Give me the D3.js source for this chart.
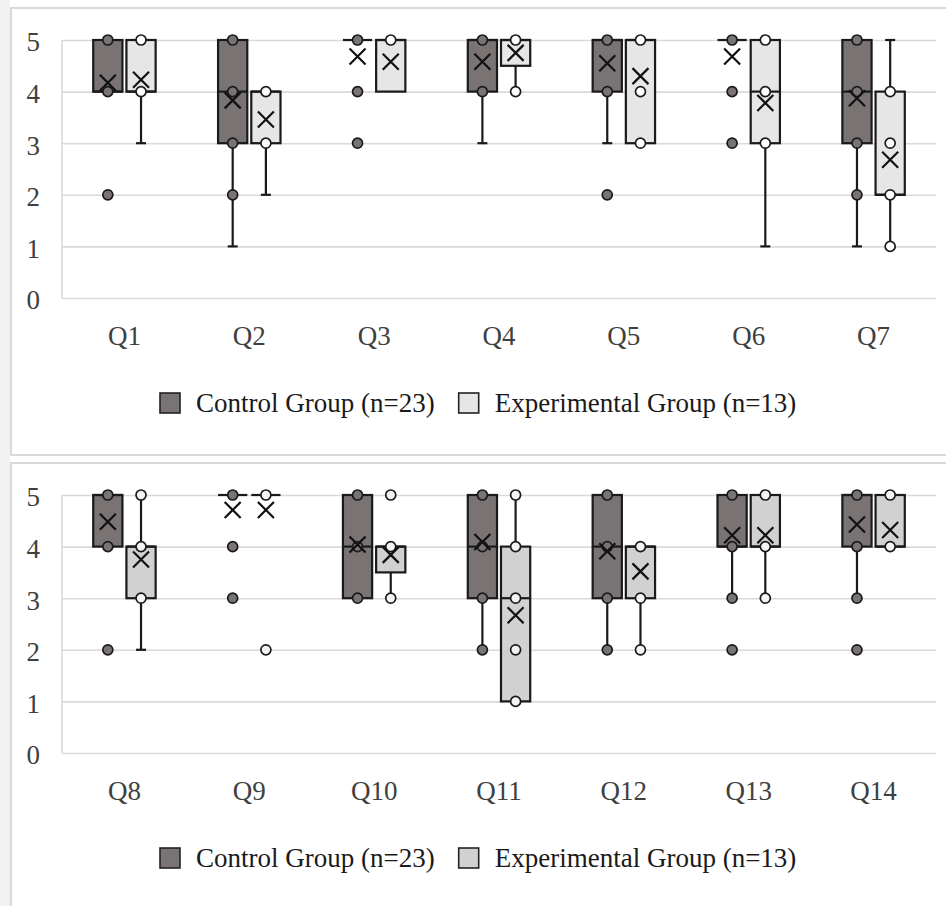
<!DOCTYPE html>
<html><head><meta charset="utf-8">
<script src="https://cdn.jsdelivr.net/npm/d3@7"></script>
<style>
html,body{margin:0;padding:0;background:#fff;}
svg{display:block;}
</style>
</head><body>
<svg id="chart" width="946" height="906"></svg>
<script>
// ---- data ----
const questions = ["Q1","Q2","Q3","Q4","Q5","Q6","Q7","Q8","Q9","Q10","Q11","Q12","Q13","Q14"];
const groups = ["Control Group (n=23)", "Experimental Group (n=13)"];
const yTicks = [0,1,2,3,4,5];

const ctrlBoxLow     = [4,3,5,4,4,5,3, 4,5,3,3,3,4,4];
const ctrlMedian     = [4,4,5,5,5,5,4, 5,5,4,4,4,4,5];
const ctrlBoxHigh    = [5,5,5,5,5,5,5, 5,5,5,5,5,5,5];
const ctrlWhiskerLow = [4,1,5,3,3,5,1, 4,5,3,2,2,3,3];
const ctrlWhiskerHigh= [5,5,5,5,5,5,5, 5,5,5,5,5,5,5];
const ctrlMean       = [4.17,3.83,4.68,4.58,4.55,4.68,3.87, 4.48,4.71,4.04,4.09,3.91,4.22,4.43];
const ctrlPoints     = [[5,4,2],[5,4,3,2],[5,4,3],[5,4],[5,4,2],[5,4,3],[5,4,3,2],
                        [5,4,2],[5,4,3],[5,4,3],[5,4,3,2],[5,4,3,2],[5,4,3,2],[5,4,3,2]];

const expBoxLow      = [4,3,4,4.5,3,3,2, 3,5,3.5,1,3,4,4];
const expMedian      = [4,4,5,5,5,4,2, 4,5,4,3,4,4,4];
const expBoxHigh     = [5,4,5,5,5,5,4, 4,5,4,4,4,5,5];
const expWhiskerLow  = [3,2,4,4,3,1,1, 2,5,3,1,2,3,4];
const expWhiskerHigh = [5,4,5,5,5,5,5, 5,5,4,5,4,5,5];
const expMean        = [4.23,3.46,4.58,4.75,4.30,3.78,2.68, 3.75,4.71,3.84,2.67,3.52,4.22,4.32];
const expPoints      = [[5,4],[4,3],[5],[5,4],[5,4,3],[5,4,3],[4,3,2,1],
                        [5,4,3],[5,2],[5,4,3],[5,4,3,2,1],[4,3,2],[5,4,3],[5,4]];

// ---- styling ----
const ctrlFill = "#797373";
const expFillTop = "#e6e6e6";
const expFillBottom = "#d2d1d1";
const font = "'Liberation Serif','Times New Roman',serif";

const svg = d3.select("#chart");
svg.append("rect").attr("width",946).attr("height",906).attr("fill","#fff");
svg.append("rect").attr("x",0).attr("y",0).attr("width",10).attr("height",906).attr("fill","#f1f1f1");

const panels = [
  {qs: questions.slice(0,7), idx:[0,1,2,3,4,5,6], y5:40, y0:298, top:8, bottom:455, legendY:403, expFill:expFillTop, expPt:"#ffffff"},
  {qs: questions.slice(7), idx:[7,8,9,10,11,12,13], y5:495, y0:753, top:463, bottom:915, legendY:858, expFill:expFillBottom, expPt:"#f4f4f4"}
];

const plotLeft = 62, plotRight = 936;

panels.forEach(p => {
  const g = svg.append("g");
  g.append("rect").attr("x",11).attr("y",p.top).attr("width",960).attr("height",p.bottom-p.top)
    .attr("fill","#fff").attr("stroke","#d9d9d9").attr("stroke-width",2);

  const y = d3.scaleLinear().domain([0,5]).range([p.y0, p.y5]);
  const x0 = d3.scaleBand().domain(p.qs).range([plotLeft, plotRight]).paddingInner(0.5).paddingOuter(0.25);
  const x1 = d3.scaleBand().domain(groups).range([0, x0.bandwidth()]).paddingInner(0.12);

  const ya = g.append("g").attr("transform",`translate(${plotLeft},0)`)
    .call(d3.axisLeft(y).tickValues(yTicks).tickSize(-(plotRight-plotLeft)).tickPadding(22).tickFormat(d3.format("d")));
  ya.select(".domain").remove();
  ya.selectAll(".tick line").attr("stroke","#d9d9d9").attr("stroke-width",1.6);
  ya.selectAll(".tick text").attr("font-family",font).attr("font-size",27).attr("fill","#404040").attr("dy","0.4em");
  g.append("line").attr("x1",plotLeft).attr("x2",plotLeft).attr("y1",y(5)).attr("y2",y(0))
    .attr("stroke","#d9d9d9").attr("stroke-width",1.6);

  const xa = g.append("g").attr("transform",`translate(0,${y(0)})`)
    .call(d3.axisBottom(x0).tickSize(0).tickPadding(28));
  xa.select(".domain").remove();
  xa.selectAll(".tick text").attr("font-family",font).attr("font-size",27).attr("fill","#404040");

  const series = [
    {name:groups[0], lo:ctrlBoxLow, med:ctrlMedian, hi:ctrlBoxHigh, wlo:ctrlWhiskerLow, whi:ctrlWhiskerHigh, mean:ctrlMean, pts:ctrlPoints, fill:ctrlFill, ptFill:ctrlFill},
    {name:groups[1], lo:expBoxLow, med:expMedian, hi:expBoxHigh, wlo:expWhiskerLow, whi:expWhiskerHigh, mean:expMean, pts:expPoints, fill:p.expFill, ptFill:p.expPt}
  ];

  const stroke = "#1a1a1a";
  series.forEach(s => {
    p.idx.forEach(i => {
      const q = questions[i];
      const bx = x0(q) + x1(s.name);
      const bw = x1.bandwidth();
      const cx = bx + bw/2;
      const gg = g.append("g");
      if (s.whi[i] > s.hi[i]) {
        gg.append("line").attr("x1",cx).attr("x2",cx).attr("y1",y(s.hi[i])).attr("y2",y(s.whi[i])).attr("stroke",stroke).attr("stroke-width",2.2);
        gg.append("line").attr("x1",cx-5).attr("x2",cx+5).attr("y1",y(s.whi[i])).attr("y2",y(s.whi[i])).attr("stroke",stroke).attr("stroke-width",2.2);
      }
      if (s.wlo[i] < s.lo[i]) {
        gg.append("line").attr("x1",cx).attr("x2",cx).attr("y1",y(s.lo[i])).attr("y2",y(s.wlo[i])).attr("stroke",stroke).attr("stroke-width",2.2);
        gg.append("line").attr("x1",cx-5).attr("x2",cx+5).attr("y1",y(s.wlo[i])).attr("y2",y(s.wlo[i])).attr("stroke",stroke).attr("stroke-width",2.2);
      }
      gg.append("rect").attr("x",bx).attr("y",y(s.hi[i])).attr("width",bw).attr("height",Math.max(0,y(s.lo[i])-y(s.hi[i])))
        .attr("fill",s.fill).attr("stroke",stroke).attr("stroke-width",2.2);
      gg.append("line").attr("x1",bx).attr("x2",bx+bw).attr("y1",y(s.med[i])).attr("y2",y(s.med[i])).attr("stroke",stroke).attr("stroke-width",2.2);
      s.pts[i].forEach(v => {
        gg.append("circle").attr("cx",cx).attr("cy",y(v)).attr("r",5)
          .attr("fill",s.ptFill).attr("stroke",stroke).attr("stroke-width",1.7);
      });
      const my = y(s.mean[i]), h = 8;
      gg.append("path").attr("d",`M${cx-h},${my-h}L${cx+h},${my+h}M${cx-h},${my+h}L${cx+h},${my-h}`)
        .attr("stroke","#111").attr("stroke-width",2.2).attr("fill","none");
    });
  });

  const lg = g.append("g");
  let lx = 160;
  series.forEach((s,k) => {
    lg.append("rect").attr("x",lx).attr("y",p.legendY-10).attr("width",20).attr("height",20)
      .attr("fill",s.fill).attr("stroke","#222").attr("stroke-width",1.6);
    const t = lg.append("text").attr("x",lx+36).attr("y",p.legendY).attr("dy","0.35em")
      .attr("font-family",font).attr("font-size",27).attr("fill","#1a1a1a").text(s.name);
    lx = lx + 36 + t.node().getComputedTextLength() + 24;
  });
});
</script>
</body></html>
